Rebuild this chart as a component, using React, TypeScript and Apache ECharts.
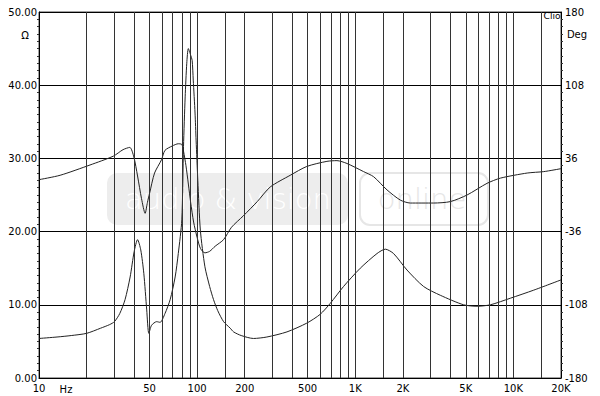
import React, { useEffect, useRef } from "react";
import * as echarts from "echarts";

// Impedance magnitude (Ω) vs frequency (Hz)
const impFreq = [10, 13, 16, 20, 24.5, 28, 30, 32.4, 35, 37.7, 40, 42, 44, 46, 48, 49.5, 51.5, 55.5, 58.3, 62.6, 67.5, 72.6, 76, 80, 82, 84, 86, 88, 91, 93, 94.5, 97, 98.5, 101, 104.8, 112, 120, 127, 135, 147, 162, 170, 190, 227, 276, 370, 494, 600, 695, 843, 1076, 1372, 1549, 1747, 2124, 2706, 3451, 4844, 5891, 7148, 9572, 13440, 20000];
const impOhm = [5.4, 5.6, 5.8, 6.1, 6.8, 7.3, 7.7, 8.8, 10.7, 13.8, 17.3, 18.9, 17.5, 14.3, 9.3, 6.1, 7.2, 7.7, 7.6, 8.8, 10.7, 13.8, 17.0, 21.6, 31.6, 38.4, 43.0, 45.0, 44.1, 43.4, 40.7, 36.2, 32.5, 27.0, 20.2, 15.2, 12.5, 10.7, 9.2, 7.7, 6.8, 6.3, 5.8, 5.4, 5.6, 6.3, 7.5, 8.7, 10.2, 12.5, 15.0, 17.0, 17.6, 17.0, 14.75, 12.5, 11.3, 10.0, 9.8, 10.0, 10.9, 12.0, 13.4];

// Phase (degrees) vs frequency (Hz)
const phaseFreq = [10, 13.6, 21, 29.5, 34, 37.5, 39.8, 42, 44.5, 46.9, 48.5, 50, 53.8, 59.5, 62.6, 69.6, 76, 80, 82, 85, 88, 91, 95, 100, 105, 112, 120, 130, 147, 165, 196, 240, 290, 388, 494, 662, 766, 886, 1129, 1306, 1588, 1927, 2228, 3130, 3992, 5093, 6818, 8278, 12220, 15560, 20000];
const phaseDeg = [15.1, 19.4, 29.5, 38.2, 44.6, 46.8, 37.4, 18.7, -3.6, -18.0, -7.2, 1.4, 21.6, 34.6, 43.9, 48.2, 50.4, 49.7, 43.2, 28.8, 10.8, -7.2, -26.6, -41.8, -52.6, -56.9, -55.4, -50.4, -43.9, -31.7, -20.5, -6.5, 7.9, 19.4, 28.1, 33.1, 33.8, 31.0, 23.0, 18.0, 5.0, -5.0, -7.9, -7.9, -6.5, 0.0, 11.5, 16.6, 21.6, 23.0, 25.9];

// Vertical grid lines (Hz)
const gridFreqs = [20, 30, 40, 50, 60, 70, 80, 90, 100, 150, 200, 300, 400, 500, 600, 700, 800, 900, 1000, 1500, 2000, 3000, 4000, 5000, 6000, 7000, 8000, 9000, 10000, 15000];
// X tick labels (Hz)
const xLabelValues = [10, 50, 100, 200, 500, 1000, 2000, 5000, 10000, 20000];

const FONT = "DejaVu Sans";

export default function App() {
  const ref = useRef<HTMLDivElement>(null);
  useEffect(() => {
    if (!ref.current) return;
    const chart = echarts.init(ref.current, undefined, { renderer: "svg" });
    const impData = impFreq.map((f, i) => [f, impOhm[i]]);
    const phData = phaseFreq.map((f, i) => [f, phaseDeg[i]]);
    chart.setOption({
      animation: false,
      backgroundColor: "#fff",
      grid: {
        left: 39,
        right: 39,
        top: 12,
        bottom: 18,
        show: true,
        borderColor: "#444",
        borderWidth: 1,
        backgroundColor: "transparent",
      },
      xAxis: {
        type: "log",
        logBase: 10,
        min: 10,
        max: 20000,
        axisLine: { show: true, lineStyle: { color: "#000", width: 1 } },
        axisTick: { show: false },
        splitLine: { show: false },
        minorTick: { show: false },
        minorSplitLine: { show: false },
        axisLabel: {
          customValues: xLabelValues,
          color: "#000",
          fontFamily: FONT,
          fontSize: 10,
          margin: 5,
          formatter: (v: number) => (v >= 1000 ? v / 1000 + "K" : String(v)),
        },
      },
      yAxis: [
        {
          type: "value",
          min: 0,
          max: 50,
          interval: 10,
          axisLine: { show: true, lineStyle: { color: "#000", width: 1 } },
          axisTick: { show: false },
          minorTick: { show: true, splitNumber: 10, length: 2, lineStyle: { color: "#333" } },
          splitLine: { show: true, lineStyle: { color: "#000", width: 1 } },
          axisLabel: {
            color: "#000",
            fontFamily: FONT,
            fontSize: 10,
            margin: 2,
            formatter: (v: number) => v.toFixed(2),
          },
        },
        {
          type: "value",
          min: -180,
          max: 180,
          interval: 72,
          position: "right",
          axisLine: { show: true, lineStyle: { color: "#000", width: 1 } },
          axisTick: { show: false },
          minorTick: { show: true, splitNumber: 10, length: 2, lineStyle: { color: "#333" } },
          splitLine: { show: false },
          axisLabel: {
            color: "#000",
            fontFamily: FONT,
            fontSize: 10,
            margin: 4,
          },
        },
      ],
      graphic: [
        {
          type: "rect",
          z: -10,
          silent: true,
          shape: { x: 107, y: 173, width: 241, height: 52, r: 10 },
          style: { fill: "#ededed" },
        },
        {
          type: "text",
          z: -9,
          silent: true,
          x: 228,
          y: 199,
          style: {
            text: "audio & vision",
            fill: "#ffffff",
            font: "200 29px 'DejaVu Sans'",
            align: "center",
            verticalAlign: "middle",
          },
        },
        {
          type: "rect",
          z: -10,
          silent: true,
          shape: { x: 360, y: 173, width: 128, height: 52, r: 10 },
          style: { fill: "none", stroke: "#e6e6e6", lineWidth: 2 },
        },
        {
          type: "text",
          z: -9,
          silent: true,
          x: 422,
          y: 199,
          style: {
            text: "online",
            fill: "#e6e6e6",
            font: "200 29px 'DejaVu Sans'",
            align: "center",
            verticalAlign: "middle",
          },
        },
        {
          type: "text",
          x: 25,
          y: 35,
          style: { text: "Ω", fill: "#000", font: "10px 'DejaVu Sans'", align: "center", verticalAlign: "middle" },
        },
        {
          type: "text",
          x: 577,
          y: 34,
          style: { text: "Deg", fill: "#000", font: "10px 'DejaVu Sans'", align: "center", verticalAlign: "middle" },
        },
        {
          type: "text",
          x: 66,
          y: 389,
          style: { text: "Hz", fill: "#000", font: "10px 'DejaVu Sans'", align: "center", verticalAlign: "middle" },
        },
        {
          type: "text",
          x: 552,
          y: 16,
          style: { text: "Clio", fill: "#000", font: "9px 'DejaVu Sans'", align: "center", verticalAlign: "middle" },
        },
      ],
      series: [
        {
          name: "grid",
          type: "line",
          z: 1,
          data: [],
          silent: true,
          markLine: {
            silent: true,
            symbol: ["none", "none"],
            label: { show: false },
            lineStyle: { type: "solid", color: "#333", width: 1 },
            data: gridFreqs.map((f) => ({ xAxis: f })),
          },
        },
        {
          name: "Impedance",
          type: "line",
          yAxisIndex: 0,
          data: impData,
          showSymbol: false,
          smooth: 0.25,
          z: 3,
          lineStyle: { color: "#222", width: 1 },
        },
        {
          name: "Phase",
          type: "line",
          yAxisIndex: 1,
          data: phData,
          showSymbol: false,
          smooth: 0.25,
          z: 3,
          lineStyle: { color: "#222", width: 1 },
        },
      ],
    });
    return () => chart.dispose();
  }, []);
  return (
    <div
      ref={ref}
      style={{ position: "fixed", left: 0, top: 0, width: 600, height: 396, background: "#fff" }}
    />
  );
}
